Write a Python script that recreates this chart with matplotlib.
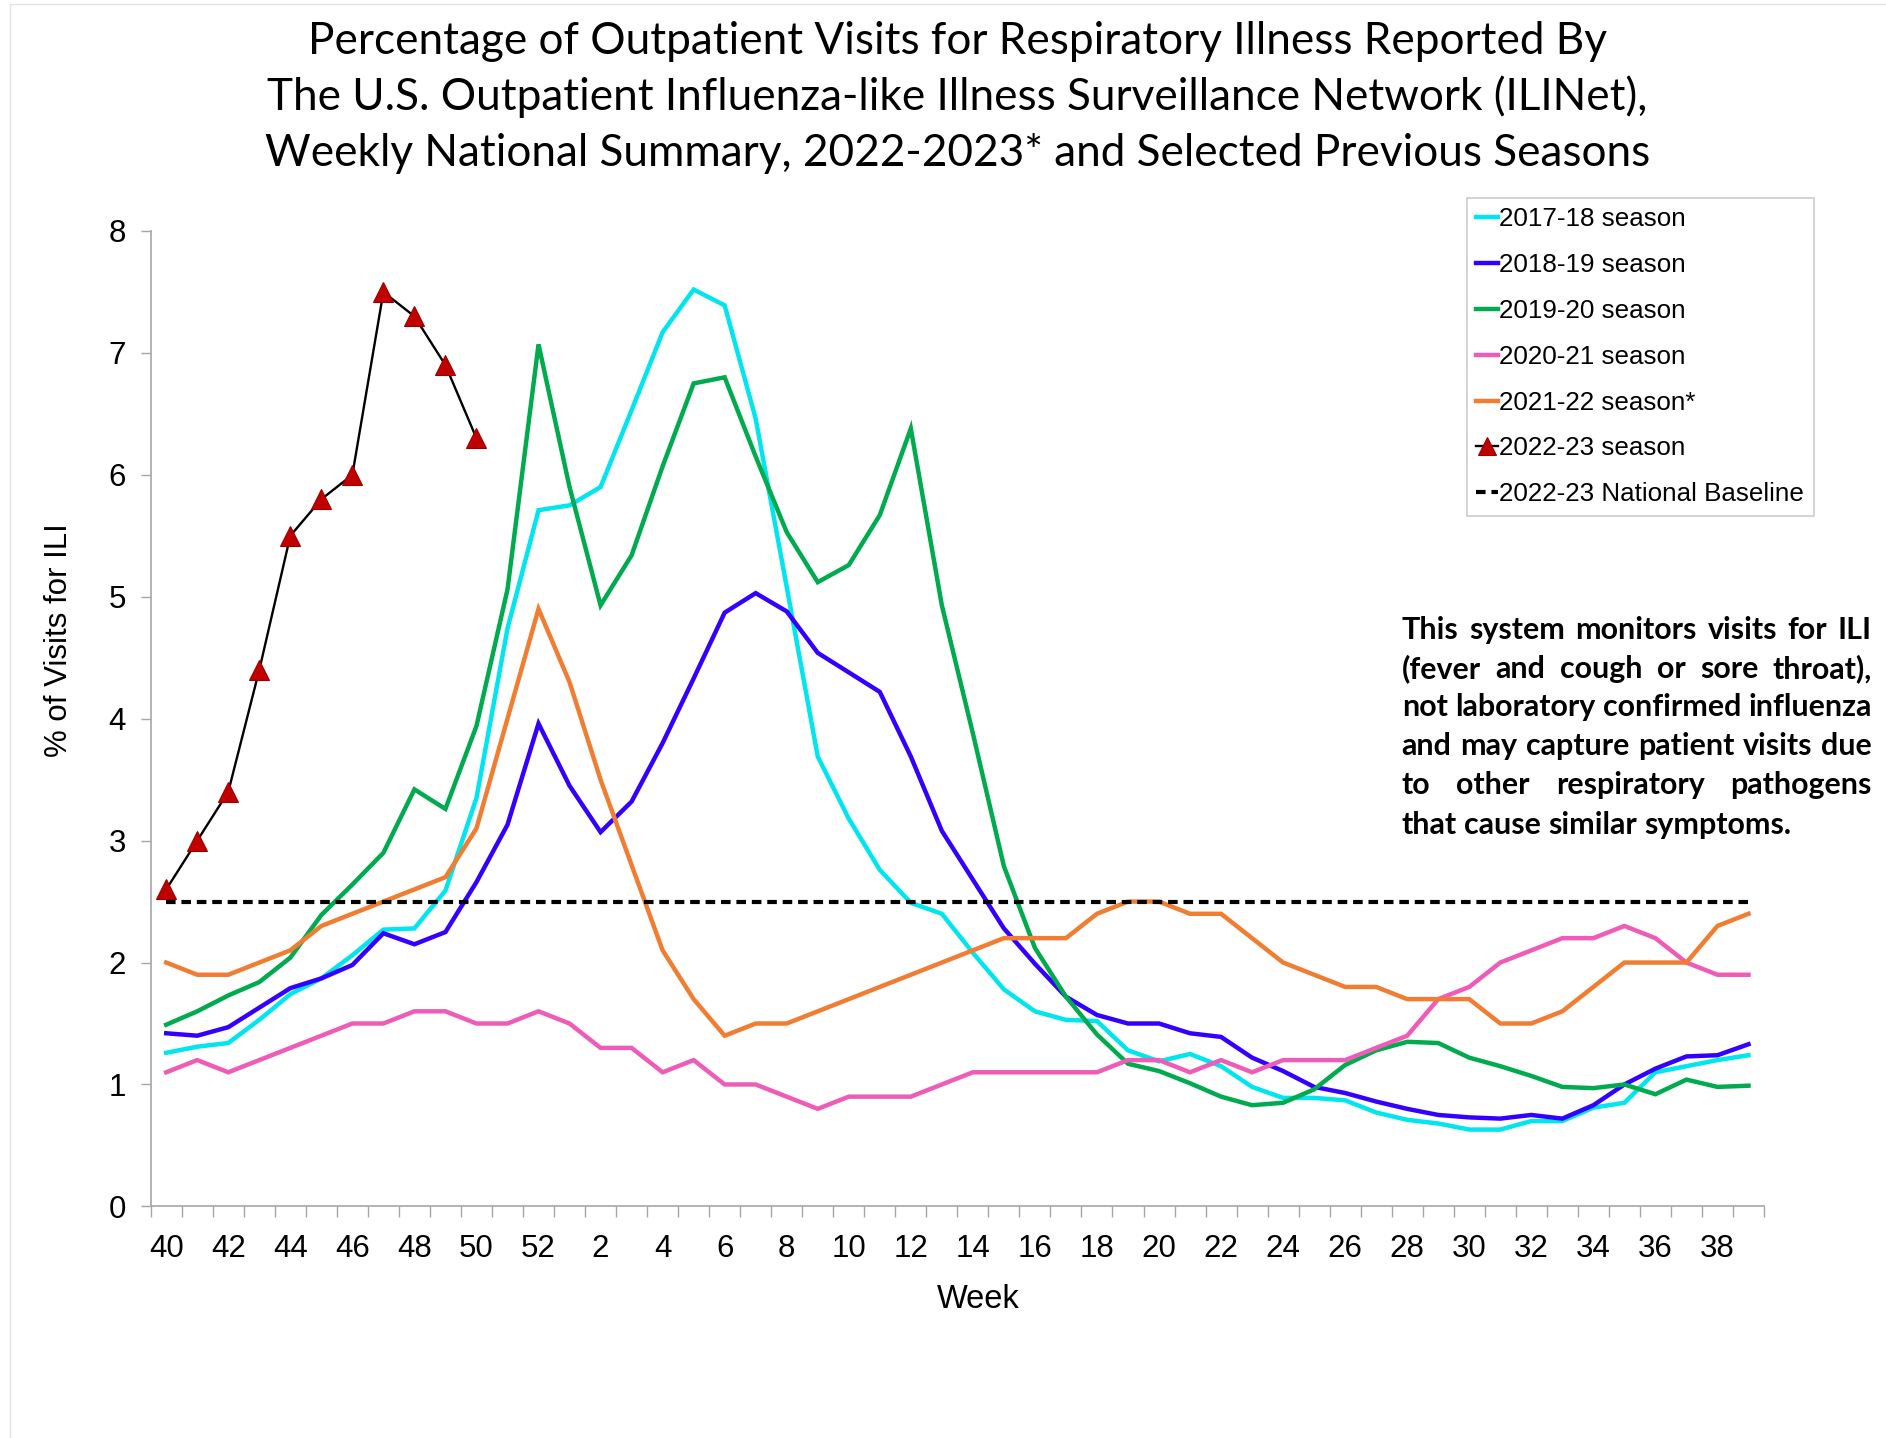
import matplotlib
matplotlib.use("Agg")
import matplotlib.pyplot as plt
from matplotlib.font_manager import FontProperties
from matplotlib.lines import Line2D
import numpy as np

# ---------------- data ----------------
weeks = [40, 41, 42, 43, 44, 45, 46, 47, 48, 49, 50, 51, 52] + list(range(1, 40))
tick_labels = ["40", "42", "44", "46", "48", "50", "52", "2", "4", "6", "8", "10", "12",
               "14", "16", "18", "20", "22", "24", "26", "28", "30", "32", "34", "36", "38"]

s2017_18 = [1.26, 1.31, 1.34, 1.53, 1.74, 1.87, 2.06, 2.27, 2.28, 2.59, 3.35, 4.74, 5.71,
            5.75, 5.90, 6.53, 7.17, 7.52, 7.39, 6.46, 5.08, 3.69, 3.18, 2.76, 2.49, 2.40,
            2.08, 1.78, 1.60, 1.53, 1.52, 1.28, 1.19, 1.25, 1.15, 0.98, 0.89, 0.89, 0.87,
            0.77, 0.71, 0.68, 0.63, 0.63, 0.70, 0.70, 0.81, 0.85, 1.10, 1.15, 1.20, 1.24]
s2018_19 = [1.42, 1.40, 1.47, 1.63, 1.79, 1.87, 1.98, 2.24, 2.15, 2.25, 2.66, 3.13, 3.96,
            3.45, 3.07, 3.32, 3.80, 4.33, 4.87, 5.03, 4.88, 4.54, 4.38, 4.22, 3.69, 3.08,
            2.68, 2.28, 1.99, 1.72, 1.57, 1.50, 1.50, 1.42, 1.39, 1.22, 1.11, 0.98, 0.93,
            0.86, 0.80, 0.75, 0.73, 0.72, 0.75, 0.72, 0.83, 1.00, 1.13, 1.23, 1.24, 1.33]
s2019_20 = [1.49, 1.60, 1.73, 1.84, 2.04, 2.39, 2.64, 2.90, 3.42, 3.26, 3.94, 5.06, 7.07,
            5.90, 4.93, 5.34, 6.07, 6.75, 6.80, 6.15, 5.53, 5.12, 5.26, 5.67, 6.38, 4.93,
            3.88, 2.79, 2.12, 1.72, 1.41, 1.17, 1.11, 1.01, 0.90, 0.83, 0.85, 0.96, 1.16,
            1.28, 1.35, 1.34, 1.22, 1.15, 1.07, 0.98, 0.97, 1.00, 0.92, 1.04, 0.98, 0.99]
s2020_21 = [1.1, 1.2, 1.1, 1.2, 1.3, 1.4, 1.5, 1.5, 1.6, 1.6, 1.5, 1.5, 1.6,
            1.5, 1.3, 1.3, 1.1, 1.2, 1.0, 1.0, 0.9, 0.8, 0.9, 0.9, 0.9, 1.0,
            1.1, 1.1, 1.1, 1.1, 1.1, 1.2, 1.2, 1.1, 1.2, 1.1, 1.2, 1.2, 1.2,
            1.3, 1.4, 1.7, 1.8, 2.0, 2.1, 2.2, 2.2, 2.3, 2.2, 2.0, 1.9, 1.9]
s2021_22 = [2.0, 1.9, 1.9, 2.0, 2.1, 2.3, 2.4, 2.5, 2.6, 2.7, 3.1, 4.0, 4.9,
            4.3, 3.5, 2.8, 2.1, 1.7, 1.4, 1.5, 1.5, 1.6, 1.7, 1.8, 1.9, 2.0,
            2.1, 2.2, 2.2, 2.2, 2.4, 2.5, 2.5, 2.4, 2.4, 2.2, 2.0, 1.9, 1.8,
            1.8, 1.7, 1.7, 1.7, 1.5, 1.5, 1.6, 1.8, 2.0, 2.0, 2.0, 2.3, 2.4]
s2022_23 = [2.6, 3.0, 3.4, 4.4, 5.5, 5.8, 6.0, 7.5, 7.3, 6.9, 6.3]
baseline_2022_23 = 2.5

series_labels = ["2017-18 season", "2018-19 season", "2019-20 season",
                 "2020-21 season", "2021-22 season*", "2022-23 season",
                 "2022-23 National Baseline"]
colors = ["#00E5EE", "#3300FF", "#00AA4F", "#EE5CB8", "#F07D32"]

title_lines = ["Percentage of Outpatient Visits for Respiratory Illness Reported By",
               "The U.S. Outpatient Influenza-like Illness Surveillance Network (ILINet),",
               "Weekly National Summary, 2022-2023* and Selected Previous Seasons"]
note_lines = ["This system monitors visits for ILI",
              "(fever and cough or sore throat),",
              "not laboratory confirmed influenza",
              "and may capture patient visits due",
              "to other respiratory pathogens",
              "that cause similar symptoms."]

# ---------------- figure ----------------
FW, FH = 1886, 1438
fig = plt.figure(figsize=(FW / 100, FH / 100), dpi=100)
fig.patch.set_facecolor("white")
plt.rcParams["font.family"] = ["Liberation Sans", "DejaVu Sans"]

ax = fig.add_axes([150.7 / FW, 1 - 1206.4 / FH, (1764 - 150.7) / FW, (1206.4 - 231) / FH])
x = np.arange(len(weeks))

lines = []
for vals, c, lab in zip([s2017_18, s2018_19, s2019_20, s2020_21, s2021_22], colors, series_labels[:5]):
    l, = ax.plot(x, vals, color=c, lw=3.2, label=lab, solid_joinstyle="miter")
    lines.append(l)
bl, = ax.plot([x[0], x[-1]], [baseline_2022_23, baseline_2022_23], color="black", lw=3.0,
              dashes=(2.3, 1.4), label=series_labels[6])
cur, = ax.plot(x[:len(s2022_23)], s2022_23, color="black", lw=1.7, marker="^", ms=14,
               markerfacecolor="#C00000", markeredgecolor="#9A0000", markeredgewidth=0.8,
               label=series_labels[5], zorder=5)

ax.set_xlim(-0.5, len(weeks) - 0.5)
ax.set_ylim(0, 8)
ax.set_yticks(range(0, 9))
ax.set_xticks(np.arange(0, len(weeks), 2))
ax.set_xticklabels(tick_labels)
ax.set_xticks(np.arange(-0.5, len(weeks), 1), minor=True)
for s in ["top", "right"]:
    ax.spines[s].set_visible(False)
for s in ["left", "bottom"]:
    ax.spines[s].set_color("#A6A6A6")
    ax.spines[s].set_linewidth(1.2)
ax.tick_params(axis="x", which="major", length=0, pad=20, labelsize=22.5)
ax.tick_params(axis="x", which="minor", length=8, width=1, color="#A6A6A6", direction="out")
ax.tick_params(axis="y", which="major", length=7, width=1, color="#A6A6A6", pad=11, labelsize=22.5)

fig.text(59 / FW, 1 - 640 / FH, "% of Visits for ILI", rotation=90, ha="center", va="center",
         fontsize=22.5)
fig.text(978 / FW, 1 - 1299 / FH, "Week", ha="center", va="center", fontsize=23.5)

# legend
handles = lines + [cur, bl]
leg = fig.legend(handles, series_labels, loc="upper left",
                 bbox_to_anchor=(1467 / FW, 1 - 198 / FH), bbox_transform=fig.transFigure,
                 fontsize=18.7, frameon=True, fancybox=False, handlelength=0.85,
                 handletextpad=0.04, labelspacing=0.84, borderpad=0.36, borderaxespad=0,
                 numpoints=1)
leg.get_frame().set_edgecolor("#BFBFBF")
leg.get_frame().set_linewidth(1.2)
for h in leg.legend_handles:
    if h.get_marker() == "^":
        h.set_markersize(13)

renderer = fig.canvas.get_renderer()

# title (fitted widths)
tfp = FontProperties(family="Lato", size=28)
probe = fig.text(0, 0, title_lines[1], fontproperties=tfp)
w = probe.get_window_extent(renderer).width
probe.remove()
tsize = 28 * 1381 / w
tfp = FontProperties(family="Lato", size=tsize)
for line, yb in zip(title_lines, [53.5, 110.5, 166.0]):
    fig.text(957.5 / FW, 1 - yb / FH, line, fontproperties=tfp, ha="center", va="baseline")

# justified note
nfp = FontProperties(family="Lato", weight="bold", size=20)
probe = fig.text(0, 0, note_lines[2], fontproperties=nfp)
w = probe.get_window_extent(renderer).width
probe.remove()
nsize = 20 * 470 / w
nfp = FontProperties(family="Lato", weight="bold", size=nsize)
pa = fig.text(0, 0, "a a", fontproperties=nfp)
pb = fig.text(0, 0, "aa", fontproperties=nfp)
space_w = pa.get_window_extent(renderer).width - pb.get_window_extent(renderer).width
pa.remove(); pb.remove()
x0n, x1n = 1401.7, 1872.0
for k, (line, yb) in enumerate(zip(note_lines, [639.1, 677.9, 716.3, 755.3, 794.2, 833.7])):
    words = line.split(" ")
    ts = [fig.text(0, 1 - yb / FH, wd, fontproperties=nfp, ha="left", va="baseline") for wd in words]
    ws = [t.get_window_extent(renderer).width for t in ts]
    if k == len(note_lines) - 1:
        gap = space_w
    else:
        gap = (x1n - x0n - sum(ws)) / (len(words) - 1)
    xx = x0n
    for t, wd in zip(ts, ws):
        t.set_x(xx / FW)
        xx += wd + gap

# faint outer frame like the source image
fig.add_artist(Line2D([10 / FW, 10 / FW], [0, 1 - 4 / FH], transform=fig.transFigure,
                      color="#E3E3E3", lw=1))
fig.add_artist(Line2D([10 / FW, 1], [1 - 4 / FH, 1 - 4 / FH], transform=fig.transFigure,
                      color="#E3E3E3", lw=1))

fig.savefig("out.png", dpi=100, facecolor="white")
